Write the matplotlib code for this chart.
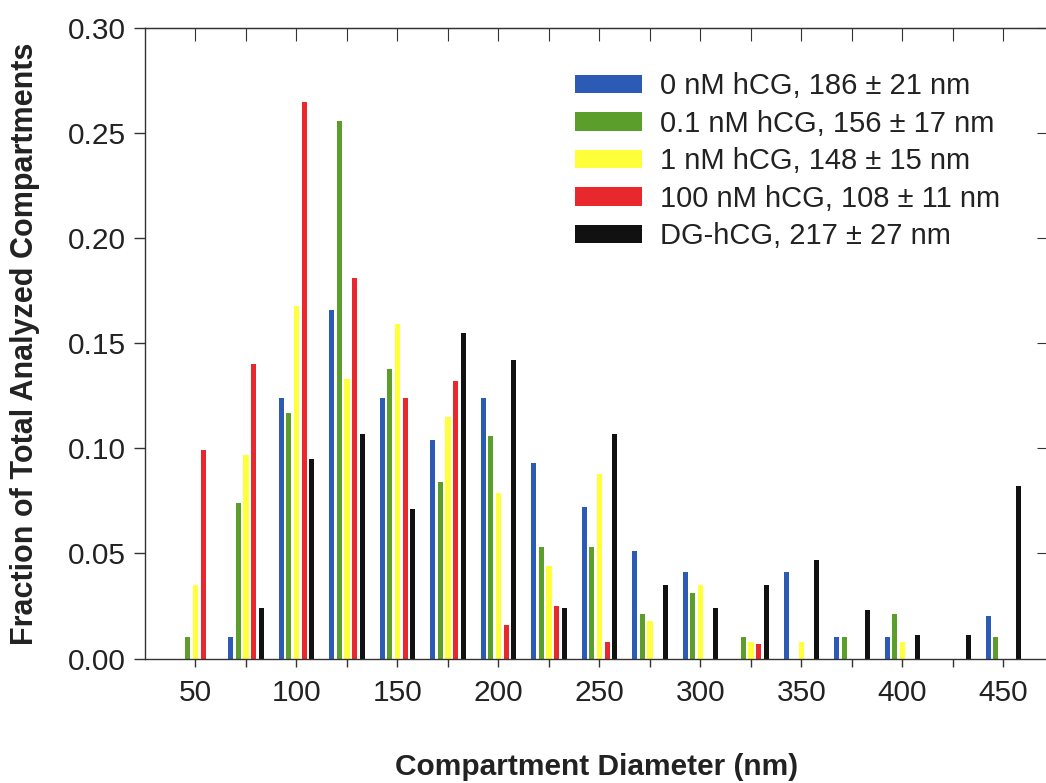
import numpy as np
import matplotlib
matplotlib.use('Agg')
import matplotlib.pyplot as plt

# ---- data ----
diameters = np.array([50, 75, 100, 125, 150, 175, 200, 225, 250,
                      275, 300, 325, 350, 375, 400, 425, 450])

hcg_0 = [0.000, 0.010, 0.124, 0.166, 0.124, 0.104, 0.124, 0.093, 0.072,
         0.051, 0.041, 0.000, 0.041, 0.010, 0.010, 0.000, 0.020]
hcg_01 = [0.010, 0.074, 0.117, 0.256, 0.138, 0.084, 0.106, 0.053, 0.053,
          0.021, 0.031, 0.010, 0.000, 0.010, 0.021, 0.000, 0.010]
hcg_1 = [0.035, 0.097, 0.168, 0.133, 0.159, 0.115, 0.079, 0.044, 0.088,
         0.018, 0.035, 0.008, 0.008, 0.000, 0.008, 0.000, 0.000]
hcg_100 = [0.099, 0.140, 0.265, 0.181, 0.124, 0.132, 0.016, 0.025, 0.008,
           0.000, 0.000, 0.007, 0.000, 0.000, 0.000, 0.000, 0.000]
dg_hcg = [0.000, 0.024, 0.095, 0.107, 0.071, 0.155, 0.142, 0.024, 0.107,
          0.035, 0.024, 0.035, 0.047, 0.023, 0.011, 0.011, 0.082]

series = [hcg_0, hcg_01, hcg_1, hcg_100, dg_hcg]
labels = ['0 nM hCG, 186 \u00b1 21 nm',
          '0.1 nM hCG, 156 \u00b1 17 nm',
          '1 nM hCG, 148 \u00b1 15 nm',
          '100 nM hCG, 108 \u00b1 11 nm',
          'DG-hCG, 217 \u00b1 27 nm']
colors = ['#2b5bb5', '#5c9e2c', '#ffff3a', '#e8282c', '#111111']

plt.rcParams['font.family'] = ['Liberation Sans', 'DejaVu Sans']

fig = plt.figure(figsize=(10.46, 7.83), dpi=100)
ax = fig.add_axes([0.1386, 0.159, 0.8642, 0.805])

step = 3.75   # spacing between bars in a group [nm]
width = 2.5
for i, (vals, lab, col) in enumerate(zip(series, labels, colors)):
    ax.bar(diameters + (i - 2) * step, vals, width=width, color=col,
           label=lab, linewidth=0)

ax.set_xlim(25, 472.5)
ax.set_ylim(0, 0.30)

axis_col = '#333333'
text_col = '#222222'
for s in ax.spines.values():
    s.set_color(axis_col)
    s.set_linewidth(1.0)

ax.set_xticks(np.arange(50, 451, 50))
ax.set_xticks(diameters, minor=True)
ax.set_yticks(np.arange(0, 0.301, 0.05))
ax.set_yticklabels(['%.2f' % v for v in np.arange(0, 0.301, 0.05)])
ax.tick_params(axis='both', which='both', direction='out', color=axis_col,
               width=1.0, labelsize=21.5, labelcolor=text_col)
ax.tick_params(axis='x', which='both', length=6, pad=9)
ax.tick_params(axis='y', which='both', length=8, pad=6)

# inward ticks on the top and right frame
top = ax.secondary_xaxis('top')
top.set_xticks(diameters)
top.tick_params(direction='in', length=9, color=axis_col, labeltop=False)
top.spines['top'].set_color(axis_col)
right = ax.secondary_yaxis('right')
right.set_yticks(np.arange(0.05, 0.301, 0.05))
right.tick_params(direction='in', length=9, color=axis_col, labelright=False)
right.spines['right'].set_color(axis_col)

ax.set_xlabel('Compartment Diameter (nm)', fontsize=21.5, fontweight='bold',
              labelpad=33, color=text_col)
ax.set_ylabel('Fraction of Total Analyzed Compartments', fontsize=22,
              fontweight='bold', labelpad=20, color=text_col)

ax.legend(loc='upper left', bbox_to_anchor=(575 / 1046, 1 - 72 / 783),
          bbox_transform=fig.transFigure, frameon=False, fontsize=21,
          handlelength=2.3, handleheight=0.59, handletextpad=0.6,
          labelspacing=0.33, borderpad=0, borderaxespad=0,
          labelcolor=text_col)

fig.savefig('out.png', dpi=100)
